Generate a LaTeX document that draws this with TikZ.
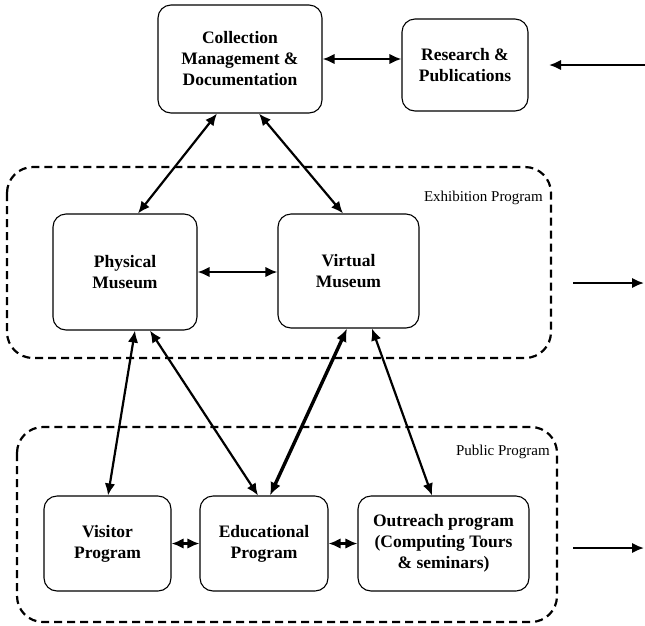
\documentclass[tikz,border=0pt]{standalone}
\usepackage{fontspec}
\setmainfont{Liberation Serif}
\usetikzlibrary{arrows.meta}
\begin{document}
\begin{tikzpicture}[x=1pt,y=-1pt,
  box/.style={draw, line width=1.1pt, rounded corners=13pt, align=center, inner sep=0pt,
    font=\fontsize{17.5}{21}\selectfont\bfseries},
  group/.style={draw, line width=2.2pt, dash pattern=on 8pt off 5pt, rounded corners=26pt},
  grouplabel/.style={font=\fontsize{15}{18}\selectfont, anchor=base east, inner sep=0pt},
  tip/.tip={Latex[length=12pt,width=10.5pt]},
  arr/.style={line width=2.2pt, -tip},
  darr/.style={line width=2.2pt, tip-tip},
  tharr/.style={line width=3.4pt, {Latex[length=13pt,width=11pt]}-{Latex[length=13pt,width=11pt]}}]
\useasboundingbox (0,0) rectangle (645,625);

% groups
\draw[group] (7,167) rectangle (551,358);
\draw[group] (17,427) rectangle (557,622);
\node[grouplabel] (exlab) at (543,201) {Exhibition Program};
\node[grouplabel] (publab) at (550,455) {Public Program};

% boxes
\node[box, minimum width=164pt, minimum height=108pt] (coll) at (240,59) {Collection\\Management \&\\Documentation};
\node[box, minimum width=126pt, minimum height=92pt] (res) at (465,65) {Research \&\\Publications};
\node[box, minimum width=144pt, minimum height=116pt] (phys) at (125,272) {Physical\\Museum};
\node[box, minimum width=141pt, minimum height=114pt] (virt) at (348.5,271) {Virtual\\Museum};
\node[box, minimum width=127pt, minimum height=95pt] (vis) at (107.5,543.5) {Visitor\\Program};
\node[box, minimum width=128pt, minimum height=95pt] (edu) at (264,543.5) {Educational\\Program};
\node[box, minimum width=171pt, minimum height=95pt] (out) at (443.5,543.5) {Outreach program\\(Computing Tours\\\& seminars)};

% free ends
\coordinate (rin) at (645,65);
\coordinate (rtip) at (549,65);
\coordinate (ex0) at (573,283);
\coordinate (ex1) at (644,283);
\coordinate (pu0) at (573,548);
\coordinate (pu1) at (644,548);

% connectors
\draw[darr] (coll.east) -- (coll.east -| res.west);
\draw[arr] (rin) -- (rtip);
\draw[arr] (ex0) -- (ex1);
\draw[arr] (pu0) -- (pu1);

\draw[darr] ([xshift=-23pt]coll.south) -- ([xshift=13pt]phys.north);
\draw[darr] ([xshift=19pt]coll.south) -- ([xshift=-5.5pt]virt.north);
\draw[darr] (phys.east) -- (phys.east -| virt.west);

\draw[darr] ([xshift=10pt]phys.south) -- ([xshift=0.5pt]vis.north);
\draw[darr] ([xshift=25pt]phys.south) -- ([xshift=-6pt]edu.north);
\draw[tharr] ([xshift=-1.5pt]virt.south) -- ([xshift=6pt]edu.north);
\draw[darr] ([xshift=23.5pt]virt.south) -- ([xshift=-11.5pt]out.north);

\draw[darr] (vis.east) -- (edu.west);
\draw[darr] (edu.east) -- (out.west);
\end{tikzpicture}
\end{document}
